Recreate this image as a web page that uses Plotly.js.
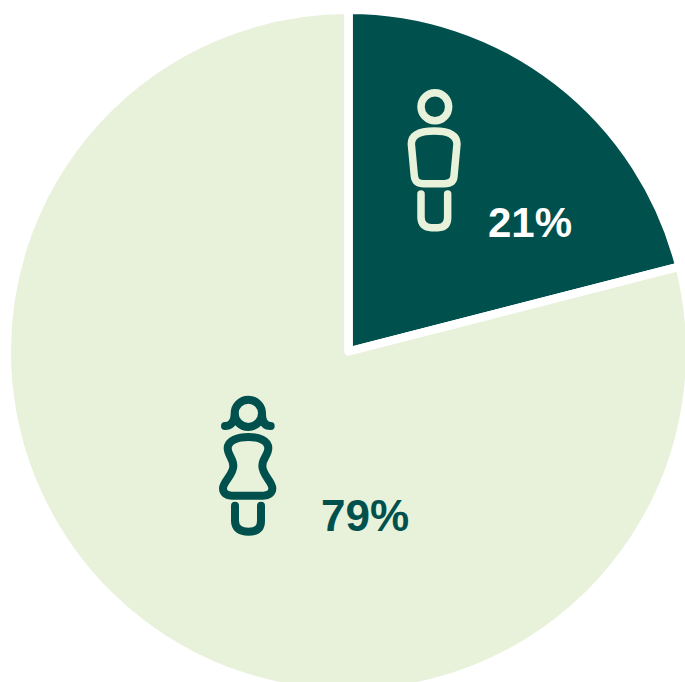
<!DOCTYPE html>
<html>
<head>
<meta charset="utf-8">
<script src="https://cdn.plot.ly/plotly-3.0.1.min.js"></script>
<style>
html,body{margin:0;padding:0;background:#fff;overflow:hidden}
#wrap{width:685px;height:682px;overflow:hidden;position:relative}
.shapelayer path{stroke-linecap:round !important;stroke-linejoin:round !important}
.slice path{stroke-linejoin:round !important}
</style>
</head>
<body>
<div id="wrap"><div id="chart"></div></div>
<script>
var categories = ["Men", "Women"];
var shareValues = [21, 79];
var sliceColors = ["#00504d", "#e8f1da"];
var textColors = ["#ffffff", "#00504d"];

var W = 700, H = 712;
var left = 6.75, right = 690.25, top_ = 9.75, bottom = 693.25;

// Decorative icons, drawn in page pixels (zoomed crop units / 3 + offset)
var manPaths = [
  "M 135,68 C 158,68 176,87 176,110 C 176,133 158,152 135,152 C 112,152 93,133 93,110 C 93,87 112,68 135,68 Z",
  "M 133,183 C 165,183 200,190 201,222 L 192,318 C 191,335 180,341 163,341 L 102,341 C 85,341 75,335 73,318 L 64,222 C 64,190 100,183 133,183 Z",
  "M 93,372 L 93,442 C 93,463 105,473 124,473 L 144,473 C 163,473 173,463 173,442 L 173,372"
];
var womanPaths = [
  "M 145,59 C 168,59 186,78 186,100 C 186,122 168,141 145,141 C 122,141 104,122 104,100 C 104,78 122,59 145,59 Z",
  "M 75,138 C 92,138 102,128 104,105",
  "M 212,138 C 196,138 187,128 186,105",
  "M 145,171 C 175,171 205,180 205,205 C 205,225 187,235 187,258 C 187,285 217,305 217,325 C 217,340 205,347 190,347 L 95,347 C 80,347 69,340 69,325 C 69,305 100,285 100,258 C 100,235 83,225 83,205 C 83,180 115,171 145,171 Z",
  "M 105,377 L 105,423 C 105,445 120,455 145,455 C 170,455 183,445 183,423 L 183,377"
];

function toPaper(path, ox, oy) {
  var isX = true;
  return path.replace(/-?\d+(\.\d+)?/g, function (m) {
    var v = parseFloat(m), out;
    if (isX) { out = (v / 3 + ox) / W; } else { out = 1 - (v / 3 + oy) / H; }
    isX = !isX;
    return out.toFixed(5);
  });
}
function iconShapes(paths, ox, oy, color, width) {
  return paths.map(function (p) {
    return {
      type: "path", xref: "paper", yref: "paper", layer: "above",
      path: toPaper(p, ox, oy),
      line: { color: color, width: width }, fillcolor: "rgba(0,0,0,0)"
    };
  });
}

var trace = {
  type: "pie",
  labels: categories,
  values: shareValues,
  sort: false,
  direction: "clockwise",
  rotation: 0,
  textinfo: "none",
  hoverinfo: "label+percent",
  showlegend: false,
  marker: { colors: sliceColors, line: { color: "#ffffff", width: 8.5 } },
  domain: { x: [left / W, right / W], y: [1 - bottom / H, 1 - top_ / H] }
};

function note(text, x, y, color, size) {
  return {
    text: "<b>" + text + "</b>", xref: "paper", yref: "paper",
    x: x / W, y: 1 - y / H, xanchor: "center", yanchor: "middle",
    showarrow: false, font: { family: "Liberation Sans, Arial, sans-serif", size: size, color: color }
  };
}

var layout = {
  width: W, height: H,
  margin: { l: 0, r: 0, t: 0, b: 0 },
  paper_bgcolor: "#ffffff",
  showlegend: false,
  annotations: [
    note(shareValues[0] + "%", 530, 222, textColors[0], 42),
    note(shareValues[1] + "%", 365, 515, textColors[1], 44)
  ],
  shapes: iconShapes(manPaths, 390, 70, sliceColors[1], 7.5)
    .concat(iconShapes(womanPaths, 200, 380, sliceColors[0], 8))
};

Plotly.newPlot("chart", [trace], layout, { displayModeBar: false, staticPlot: true });
</script>
</body>
</html>
